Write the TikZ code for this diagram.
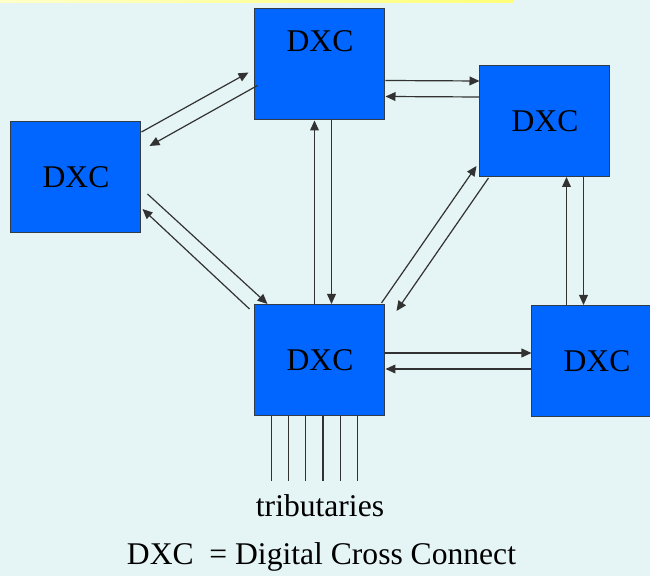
\documentclass[tikz,border=0pt]{standalone}
\usepackage{fontspec}
\setmainfont{Liberation Serif}
\usetikzlibrary{calc,arrows.meta}
\definecolor{bgcol}{RGB}{229,244,244}
\definecolor{boxblue}{RGB}{0,102,255}
\definecolor{edgegray}{RGB}{50,60,70}
\definecolor{linegray}{RGB}{50,50,50}
\tikzset{
  dxcbox/.style={draw=edgegray, line width=0.5pt, fill=boxblue,
    minimum width=65pt, minimum height=55.5pt, inner sep=0pt},
  dxclabel/.style={font=\fontsize{15.8}{18}\selectfont, inner sep=0pt},
  link/.style={draw=linegray, line width=0.6pt,
    -{Triangle[length=5pt,width=4.4pt]}},
  tribline/.style={draw=linegray, line width=0.6pt},
  caption/.style={font=\fontsize{15.8}{18}\selectfont, inner sep=0pt, anchor=base}
}
\begin{document}
\begin{tikzpicture}[x=0.5pt,y=-0.5pt]
  % canvas and header strip
  \fill[bgcol] (0,0) rectangle (650,576);
  \useasboundingbox (0,0) rectangle (650,576);
  \shade[left color={rgb,255:red,255;green,255;blue,200}, right color={rgb,255:red,255;green,255;blue,120}]
    (0,0) rectangle (513,3);

  % cross-connect nodes
  \node[dxcbox, label={[dxclabel,yshift=11.5pt]center:DXC}] (top) at (320,64.5) {};
  \node[dxcbox, label={[dxclabel]center:DXC}] (ru)  at (545,121) {};
  \node[dxcbox, label={[dxclabel]center:DXC}] (left) at (76,177) {};
  \node[dxcbox, label={[dxclabel]center:DXC}] (ctr) at (320,360) {};
  \node[dxcbox, label={[dxclabel]center:DXC}] (rl)  at (597,361) {};

  % left <-> top
  \draw[link] ($(left.north east)+(0,11)$) -- ($(top.north west)+(-6,64)$);
  \draw[link] ($(top.north west)+(3,77)$) -- ($(left.north east)+(8,25)$);
  % left <-> centre
  \draw[link] ($(left.north east)+(6,73)$) -- ($(ctr.north west)+(13,0)$);
  \draw[link] ($(ctr.north west)+(-5,5)$) -- ($(left.north east)+(1,88)$);
  % centre <-> right upper
  \draw[link] ($(ctr.north east)+(-4,-1)$) -- ($(ru.south west)+(-3,-11)$);
  \draw[link] ($(ru.south west)+(9,1)$) -- ($(ctr.north east)+(11,7)$);
  % top <-> right upper
  \draw[link] ($(top.north east)+(0,72)$) -- ($(ru.north west)+(0,16)$);
  \draw[link] ($(ru.north west)+(0,32)$) -- ($(top.north east)+(0,88)$);
  % top <-> centre
  \draw[link] ($(ctr.north west)+(60,0)$) -- ($(top.south west)+(60,0)$);
  \draw[link] ($(top.south west)+(77,0)$) -- ($(ctr.north west)+(77,0)$);
  % centre <-> right lower
  \draw[link] ($(ctr.north east)+(0,49)$) -- ($(rl.north west)+(0,48)$);
  \draw[link] ($(rl.north west)+(0,64)$) -- ($(ctr.north east)+(0,65)$);
  % right lower <-> right upper
  \draw[link] ($(rl.north west)+(35,0)$) -- ($(ru.south west)+(87,0)$);
  \draw[link] ($(ru.south west)+(104,0)$) -- ($(rl.north west)+(52,0)$);

  % tributary lines
  \foreach \i in {0,...,5}
    \draw[tribline] ($(ctr.south west)+(17+17.2*\i,0)$) -- ++(0,65);

  \node[caption] (trib) at (320,517) {tributaries};
  \node[caption] (legend) at (321.5,565) {DXC\ \ = Digital Cross Connect};
\end{tikzpicture}
\end{document}
